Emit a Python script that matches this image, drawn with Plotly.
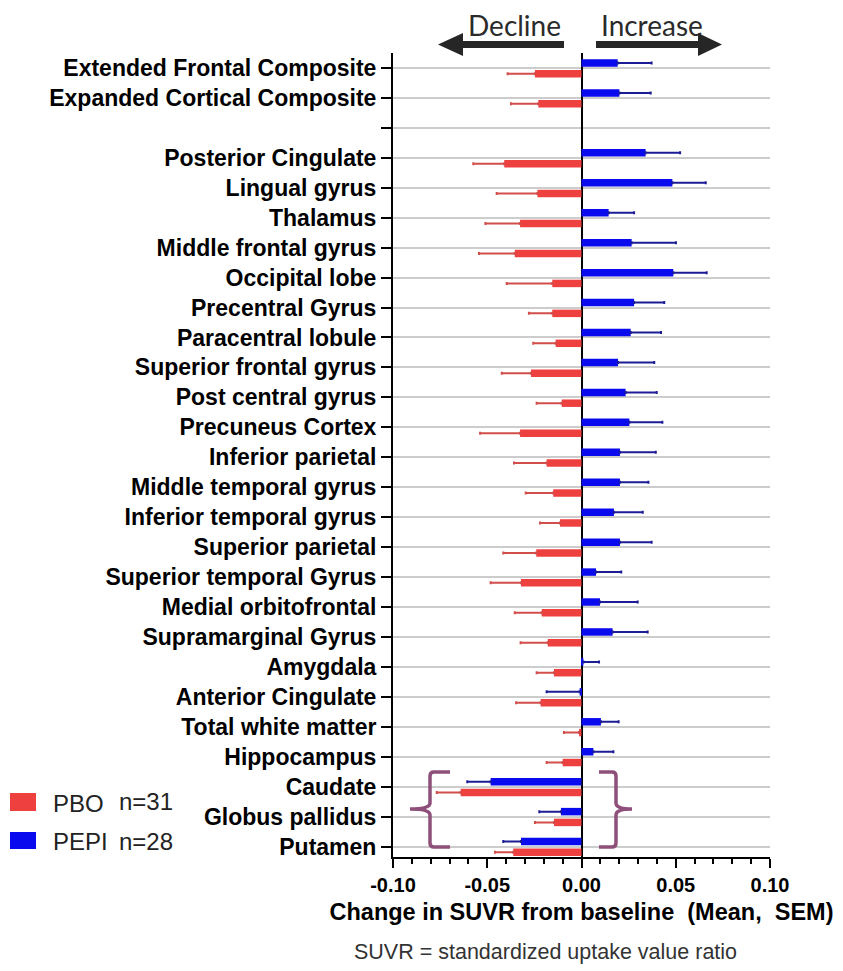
import plotly.graph_objects as go

regions = [
    "Extended Frontal Composite", "Expanded Cortical Composite", " ",
    "Posterior Cingulate", "Lingual gyrus", "Thalamus", "Middle frontal gyrus",
    "Occipital lobe", "Precentral Gyrus", "Paracentral lobule",
    "Superior frontal gyrus", "Post central gyrus", "Precuneus Cortex",
    "Inferior parietal", "Middle temporal gyrus", "Inferior temporal gyrus",
    "Superior parietal", "Superior temporal Gyrus", "Medial orbitofrontal",
    "Supramarginal Gyrus", "Amygdala", "Anterior Cingulate",
    "Total white matter", "Hippocampus", "Caudate", "Globus pallidus", "Putamen",
]

pepi_mean = [0.0192, 0.0201, None, 0.0340, 0.0482, 0.0144, 0.0266, 0.0487, 0.0279,
             0.0261, 0.0194, 0.0234, 0.0254, 0.0204, 0.0204, 0.0172, 0.0204, 0.0077,
             0.0098, 0.0165, 0.0010, -0.0010, 0.0103, 0.0063, -0.0482, -0.0109, -0.0321]
pepi_sem = [0.0180, 0.0166, None, 0.0183, 0.0177, 0.0135, 0.0235, 0.0177, 0.0160,
            0.0161, 0.0192, 0.0165, 0.0175, 0.0190, 0.0151, 0.0153, 0.0168, 0.0134,
            0.0200, 0.0186, 0.0083, 0.0175, 0.0094, 0.0106, 0.0124, 0.0115, 0.0094]

pbo_mean = [-0.0247, -0.0229, None, -0.0410, -0.0234, -0.0326, -0.0354, -0.0155, -0.0155,
            -0.0137, -0.0268, -0.0105, -0.0326, -0.0185, -0.0150, -0.0114, -0.0240, -0.0321,
            -0.0211, -0.0179, -0.0146, -0.0217, -0.0013, -0.0100, -0.0641, -0.0146, -0.0362]
pbo_sem = [0.0145, 0.0145, None, 0.0164, 0.0216, 0.0184, 0.0190, 0.0242, 0.0124,
           0.0119, 0.0155, 0.0133, 0.0212, 0.0173, 0.0146, 0.0106, 0.0175, 0.0161,
           0.0143, 0.0144, 0.0092, 0.0130, 0.0080, 0.0085, 0.0127, 0.0101, 0.0097]

x_tickvals = [-0.10, -0.05, 0.00, 0.05, 0.10]
x_ticktext = ["-0.10", "-0.05", "0.00", "0.05", "0.10"]

PBO_COLOR = "#EF4040"
PBO_ERR = "#D24E4A"
PEPI_COLOR = "#0A0AEE"
PEPI_ERR = "#1C1C96"
BRACE = "#8E4F7A"


def split_err(means, sems):
    plus, minus = [], []
    for m, s in zip(means, sems):
        if m is None:
            plus.append(None)
            minus.append(None)
        elif m < 0:
            plus.append(0)
            minus.append(s)
        else:
            plus.append(s)
            minus.append(0)
    return plus, minus


pepi_plus, pepi_minus = split_err(pepi_mean, pepi_sem)
pbo_plus, pbo_minus = split_err(pbo_mean, pbo_sem)

fig = go.Figure()
fig.add_trace(go.Bar(
    y=regions, x=pbo_mean, orientation="h", name="PBO",
    marker=dict(color=PBO_COLOR, line=dict(width=0)),
    width=0.25, offset=0.07,
    error_x=dict(type="data", symmetric=False, array=pbo_plus, arrayminus=pbo_minus,
                 color=PBO_ERR, thickness=2, width=1.5),
    showlegend=False, hoverinfo="skip",
))
fig.add_trace(go.Bar(
    y=regions, x=pepi_mean, orientation="h", name="PEPI",
    marker=dict(color=PEPI_COLOR, line=dict(width=0)),
    width=0.25, offset=-0.29,
    error_x=dict(type="data", symmetric=False, array=pepi_plus, arrayminus=pepi_minus,
                 color=PEPI_ERR, thickness=2, width=1.5),
    showlegend=False, hoverinfo="skip",
))

# page is rendered with an 8px body margin
OFF = 8
W, H = 843 - OFF, 971 - OFF
L, R, T, B = 393, 770, 53, 857  # plot area in page pixels


def px(x):
    return (x - L) / (R - L)


def py(y):
    return (B - y) / (B - T)


def path(points):
    return "M " + " L ".join(f"{px(a):.5f},{py(b):.5f}" for a, b in points) + " Z"


def openpath(cmds):
    out = []
    for c in cmds:
        if isinstance(c, str):
            out.append(c)
        else:
            out.append(f"{px(c[0]):.5f},{py(c[1]):.5f}")
    return " ".join(out)


shapes = []
arrow_col = "#262626"
shapes.append(dict(type="path", xref="paper", yref="paper",
                   path=path([(564, 41), (463, 41), (463, 33), (438, 44.5), (463, 56), (463, 48), (564, 48)]),
                   fillcolor=arrow_col, line=dict(width=0)))
shapes.append(dict(type="path", xref="paper", yref="paper",
                   path=path([(596, 41), (698, 41), (698, 33), (722, 44.5), (698, 56), (698, 48), (596, 48)]),
                   fillcolor=arrow_col, line=dict(width=0)))

# braces
left_brace = openpath(["M", (450, 772), "L", (434, 772), "Q", (430, 772), (430, 776),
                       "L", (430, 803), "Q", (430, 809), (410, 809), "Q", (430, 809), (430, 815),
                       "L", (430, 843), "Q", (430, 847), (434, 847), "L", (450, 847)])
right_brace = openpath(["M", (599, 772), "L", (612, 772), "Q", (616, 772), (616, 776),
                        "L", (616, 803), "Q", (616, 809), (632, 809), "Q", (616, 809), (616, 815),
                        "L", (616, 843), "Q", (616, 847), (612, 847), "L", (599, 847)])
for p in (left_brace, right_brace):
    shapes.append(dict(type="path", xref="paper", yref="paper", path=p,
                       line=dict(color=BRACE, width=3.5)))

# legend swatches
shapes.append(dict(type="rect", xref="paper", yref="paper",
                   x0=px(10), x1=px(36), y0=py(811), y1=py(793),
                   fillcolor=PBO_COLOR, line=dict(width=0)))
shapes.append(dict(type="rect", xref="paper", yref="paper",
                   x0=px(10), x1=px(36), y0=py(849), y1=py(832),
                   fillcolor=PEPI_COLOR, line=dict(width=0)))

ann_font = dict(family="Liberation Sans, Arial, sans-serif", size=24, color="#222222")
top_font = dict(family="Lato, sans-serif", size=28, color="#2b2b2b")
annotations = [
    dict(text="Decline", x=px(514), y=py(24.5), xref="paper", yref="paper",
         showarrow=False, xanchor="center", yanchor="middle", borderpad=0, font=top_font),
    dict(text="Increase", x=px(652), y=py(24.5), xref="paper", yref="paper",
         showarrow=False, xanchor="center", yanchor="middle", borderpad=0, font=top_font),
    dict(text="PBO", x=px(51), y=py(803), xref="paper", yref="paper",
         showarrow=False, xanchor="left", yanchor="middle", font=ann_font),
    dict(text="n=31", x=px(117), y=py(801), xref="paper", yref="paper",
         showarrow=False, xanchor="left", yanchor="middle", font=ann_font),
    dict(text="PEPI", x=px(51), y=py(841), xref="paper", yref="paper",
         showarrow=False, xanchor="left", yanchor="middle", font=ann_font),
    dict(text="n=28", x=px(117), y=py(841), xref="paper", yref="paper",
         showarrow=False, xanchor="left", yanchor="middle", font=ann_font),
    dict(text="SUVR = standardized uptake value ratio", x=px(545), y=py(952),
         xref="paper", yref="paper", showarrow=False, xanchor="center", yanchor="middle",
         font=dict(family="Liberation Sans, Arial, sans-serif", size=21.5, color="#333333")),
]

fig.update_layout(
    width=W, height=H,
    margin=dict(l=L - OFF, r=W - (R - OFF), t=T - OFF, b=H - (B - OFF), pad=0),
    paper_bgcolor="white", plot_bgcolor="white",
    barmode="overlay",
    shapes=shapes, annotations=annotations,
    font=dict(family="Liberation Sans, Arial, sans-serif", color="black"),
)

fig.update_xaxes(
    range=[-0.10, 0.10], tickvals=x_tickvals, ticktext=x_ticktext,
    showgrid=False, zeroline=True, zerolinecolor="black", zerolinewidth=2,
    showline=True, linecolor="black", linewidth=2,
    ticks="outside", ticklen=9, tickwidth=2, tickcolor="black",
    minor=dict(dtick=0.01, ticks="outside", ticklen=5, tickwidth=2, tickcolor="black", showgrid=False),
    tickfont=dict(family="Liberation Sans, Arial, sans-serif", size=20, color="black", weight="bold"),
    title=dict(text="Change in SUVR from baseline\u00a0\u00a0(Mean,\u00a0\u00a0SEM)",
               font=dict(family="Liberation Sans, Arial, sans-serif", size=23.5, color="black", weight="bold"),
               standoff=9),
    fixedrange=True,
)
fig.update_yaxes(
    type="category", categoryorder="array", categoryarray=regions,
    range=[26.35, -0.5],
    showgrid=True, gridcolor="#cccccc", gridwidth=2,
    showline=True, linecolor="black", linewidth=2,
    ticks="outside", ticklen=10, tickwidth=2, tickcolor="black",
    tickfont=dict(family="Liberation Sans, Arial, sans-serif", size=23, color="black", weight="bold"),
    ticklabelstandoff=0,
    fixedrange=True,
)

fig.write_html("out.html")
